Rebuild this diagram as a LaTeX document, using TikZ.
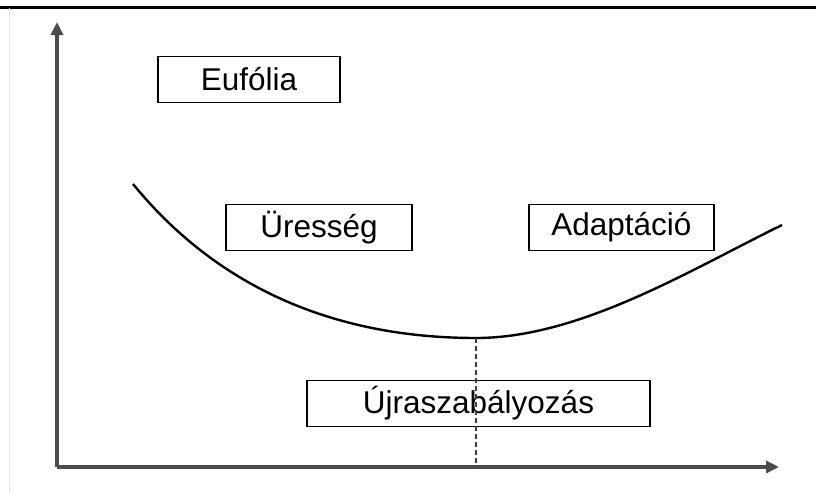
\documentclass[tikz,border=0pt]{standalone}
\usepackage{fontspec}
\setmainfont{Liberation Sans}
\usetikzlibrary{arrows.meta, positioning}

\begin{document}
\begin{tikzpicture}[
  x=1pt, y=-1pt,
  font=\fontsize{31.5}{36}\selectfont,
  phase/.style={draw, line width=1.8pt, inner sep=0pt, align=center,
                minimum height=46pt},
  axis/.style={draw=black!70, line width=3.5pt,
               -{Triangle[length=13pt, width=12pt]}},
  trend/.style={line width=2.4pt},
  mark line/.style={draw=black!75, line width=2.8pt,
                    dash pattern=on 5pt off 3pt}]

  \useasboundingbox (0,0) rectangle (816,493);

  % frame lines of the scan
  \draw[line width=3pt] (0,7) -- (816,7);
  \draw[black!10, line width=1pt] (9,8) -- (9,493);

  % axes
  \coordinate (origin) at (57,467);
  \coordinate (ytip) at (57,22);
  \coordinate (xtip) at (779,467);
  \draw[axis] (origin) -- (ytip);
  \draw[axis] (origin) -- (xtip);

  % phases
  \node[phase, minimum width=182pt] (eufolia) at (249,79.5) {Eufólia};
  \node[phase, minimum width=186pt] (uresseg) at (319,227.5) {Üresség};
  \node[phase, minimum width=185pt, right=115pt of uresseg]
    (adaptacio) {Adaptáció};
  \node[phase, minimum width=343pt] (ujra) at (478.5,403.5) {Újraszabályozás};

  % curve
  \coordinate (cstart) at (133,184);
  \coordinate (cmin) at (476,338);
  \coordinate (cend) at (782,225);
  \draw[trend] (cstart) .. controls (240,315) and (380,338) .. (cmin)
    .. controls (580,338) and (690,270) .. (cend);

  % turning point
  \draw[mark line] (cmin) -- (cmin |- origin);
\end{tikzpicture}
\end{document}
